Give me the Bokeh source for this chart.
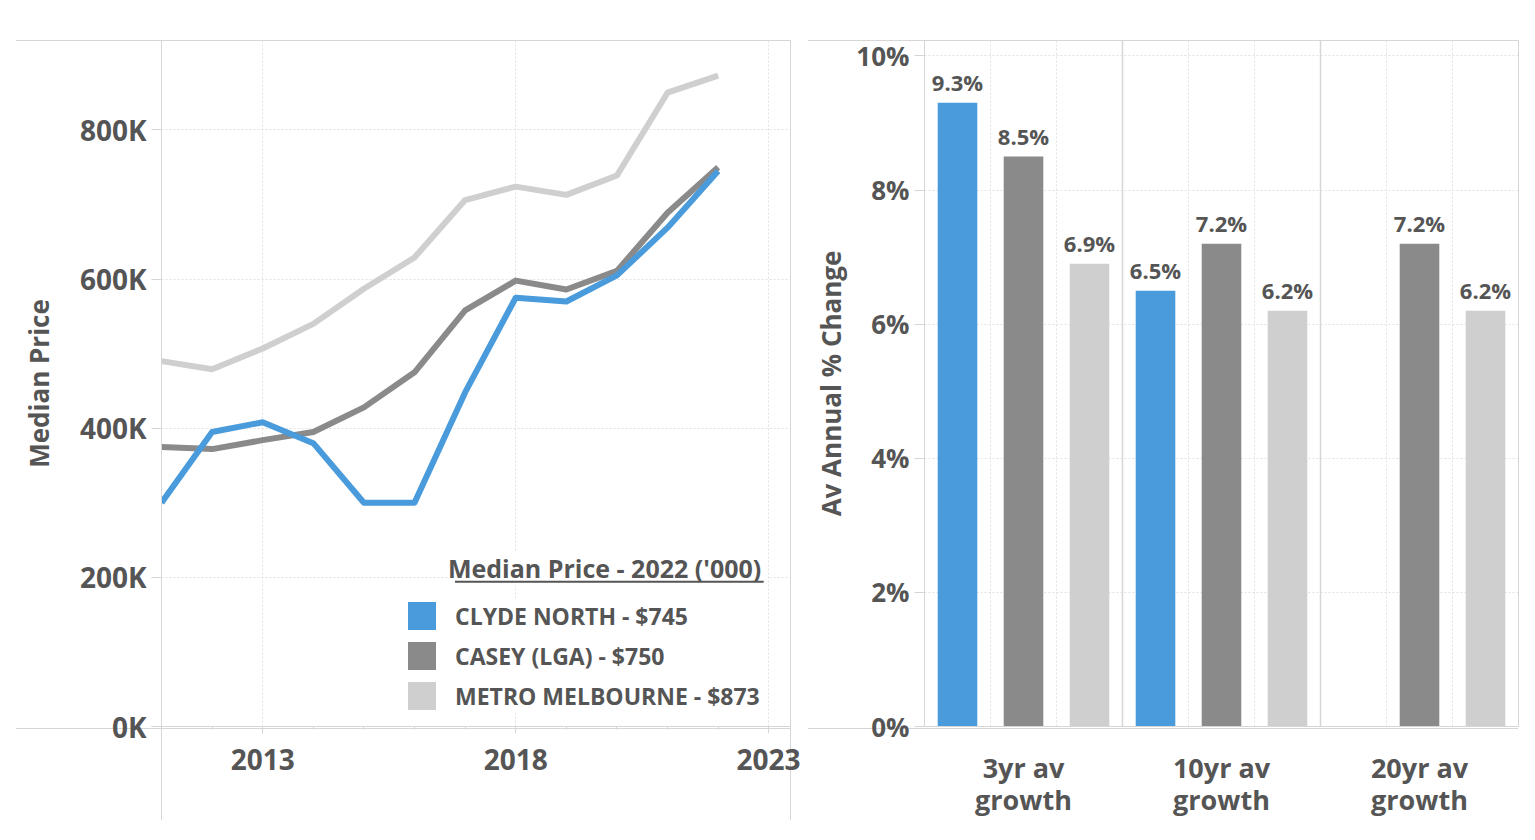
from bokeh.plotting import figure
from bokeh.layouts import row
from bokeh.models import (FixedTicker, Legend, LegendItem, Label, BoxAnnotation,
                          Range1d, Span, InlineStyleSheet)
from bokeh.embed import file_html
from bokeh.resources import INLINE
from bokeh.core.properties import value

FONT = "Open Sans"
TEXT = "#555555"
BORDER = "#d6d6d6"
GRID = "#e2e2e2"

# ---------------- data: median price (thousands of $) ----------------
years = [2011, 2012, 2013, 2014, 2015, 2016, 2017, 2018, 2019, 2020, 2021, 2022]
clyde_north = [300, 395, 408, 380, 300, 300, 448, 575, 570, 605, 669, 745]
casey_lga = [375, 372, 384, 395, 428, 475, 558, 598, 586, 611, 689, 750]
metro_melbourne = [490, 479, 507, 540, 587, 629, 706, 724, 713, 739, 850, 873]
series_labels = ["CLYDE NORTH - $745", "CASEY (LGA) - $750", "METRO MELBOURNE - $873"]
series_colors = ["#4a9bdc", "#8a8a8a", "#cfcfcf"]
legend_title = "Median Price  - 2022 ('000)"
price_ticks = [0, 200, 400, 600, 800]
price_tick_labels = ["0K", "200K", "400K", "600K", "800K"]
year_ticks = [2013, 2018, 2023]
year_minor_ticks = list(range(2011, 2024))

# ---------------- data: average annual growth (%) ----------------
periods = ["3yr av\ngrowth", "10yr av\ngrowth", "20yr av\ngrowth"]
growth_clyde_north = [9.3, 6.5, None]
growth_casey_lga = [8.5, 7.2, 7.2]
growth_metro_melbourne = [6.9, 6.2, 6.2]
growth_ticks = [0, 2, 4, 6, 8, 10]
growth_tick_labels = ["0%", "2%", "4%", "6%", "8%", "10%"]


def style_axis(ax, label_size):
    ax.axis_line_color = BORDER
    ax.major_tick_line_color = BORDER
    ax.minor_tick_line_color = BORDER
    ax.major_tick_in = 0
    ax.minor_tick_in = 0
    ax.major_label_text_font = FONT
    ax.major_label_text_font_style = "bold"
    ax.major_label_text_font_size = label_size
    ax.major_label_text_color = TEXT
    ax.axis_label_text_font = FONT
    ax.axis_label_text_font_style = "bold"
    ax.axis_label_text_font_size = "26px"
    ax.axis_label_text_color = TEXT


def pane_lines(css_boxes):
    # light pane borders that run past the plot frame (drawn behind the transparent border area)
    rules = []
    for sel, box in zip([":host::before", ":host::after"], css_boxes):
        rules.append(sel + "{content:'';position:absolute;pointer-events:none;z-index:-1;"
                     "box-sizing:border-box;" + box + "}")
    return InlineStyleSheet(css=":host{position:relative;}" + "".join(rules))


# ================= left chart =================
p1 = figure(width=800, height=820, x_range=Range1d(2011, 2023.43), y_range=Range1d(0, 920),
            output_backend="svg", toolbar_location=None,
            min_border_left=161, min_border_right=10, min_border_top=40, min_border_bottom=92)
p1.outline_line_color = BORDER
p1.border_fill_alpha = 0
p1.background_fill_color = "white"

for vals, col in zip([metro_melbourne, casey_lga, clyde_north],
                     [series_colors[2], series_colors[1], series_colors[0]]):
    p1.line(years, vals, line_width=6, line_color=col, line_join="round")

style_axis(p1.yaxis[0], "28px")
p1.yaxis.ticker = FixedTicker(ticks=price_ticks)
p1.yaxis.major_label_overrides = dict(zip(price_ticks, price_tick_labels))
p1.yaxis.axis_label = "Median Price"
p1.yaxis.axis_label_standoff = 20
p1.yaxis.major_label_standoff = 5
p1.yaxis.major_tick_out = 10
p1.yaxis.minor_tick_out = 0

style_axis(p1.xaxis[0], "28px")
p1.xaxis.ticker = FixedTicker(ticks=year_ticks, minor_ticks=year_minor_ticks)
p1.xaxis.major_tick_out = 7
p1.xaxis.minor_tick_out = 3
p1.xaxis.major_label_standoff = 15

for g in (p1.xgrid[0], p1.ygrid[0]):
    g.grid_line_color = GRID
    g.grid_line_dash = "2 2"

# zero-area swatch renderers, used only for the legend's square keys
squares = [p1.quad(left=[years[0]], right=[years[0]], top=[0], bottom=[0],
                   fill_color=c, line_color=None) for c in series_colors]
legend = Legend(items=[LegendItem(label=l, renderers=[r]) for l, r in zip(series_labels, squares)],
                location=(243, 13), orientation="vertical",
                glyph_width=35, glyph_height=35, label_height=35, spacing=5,
                label_standoff=16, padding=10, margin=0,
                background_fill_color="white", background_fill_alpha=1.0,
                border_line_color=None,
                label_text_font=FONT, label_text_font_style="bold",
                label_text_font_size="23px", label_text_color=TEXT)
p1.add_layout(legend)
p1.add_layout(Label(x=2022.98, y=212, text=legend_title, text_align="right",
                    text_baseline="middle", text_font=FONT, text_font_style="bold",
                    text_font_size="25px", text_color=TEXT,
                    background_fill_color="white", background_fill_alpha=1.0))
p1.add_layout(BoxAnnotation(left=2016.8, right=2022.9, top=195.5, bottom=192.8,
                            fill_color=TEXT, fill_alpha=1.0, line_color=None))

p1.stylesheets = [pane_lines([
    "left:16px;top:40px;width:774px;height:689px;"
    "border-top:1px solid " + BORDER + ";border-bottom:1px solid " + BORDER + ";",
    "left:161px;top:40px;width:630px;height:780px;"
    "border-left:1px solid " + BORDER + ";border-right:1px solid " + BORDER + ";",
])]

# ================= right chart =================
growth_series = [growth_clyde_north, growth_casey_lga, growth_metro_melbourne]
n = len(growth_series)
p2 = figure(width=727, height=820, x_range=Range1d(0, n * len(periods)), y_range=Range1d(0, 10.23),
            output_backend="svg", toolbar_location=None,
            min_border_left=124, min_border_right=9, min_border_top=40, min_border_bottom=92)
p2.outline_line_color = BORDER
p2.border_fill_alpha = 0
p2.background_fill_color = "white"

for j, (vals, col) in enumerate(zip(growth_series, series_colors)):
    xs = [i * n + j + 0.5 for i, v in enumerate(vals) if v is not None]
    ys = [v for v in vals if v is not None]
    p2.vbar(x=xs, top=ys, bottom=0, width=0.6, fill_color=col, line_color=None)
    p2.text(x=xs, y=ys, text=[f"{v:.1f}%" for v in ys], text_align="center",
            text_baseline="bottom", y_offset=-6, text_font=value(FONT),
            text_font_style="bold", text_font_size="22px", text_color=TEXT)

style_axis(p2.yaxis[0], "26px")
p2.yaxis.ticker = FixedTicker(ticks=growth_ticks)
p2.yaxis.major_label_overrides = dict(zip(growth_ticks, growth_tick_labels))
p2.yaxis.axis_label = "Av Annual % Change"
p2.yaxis.axis_label_standoff = 4
p2.yaxis.major_label_standoff = 5
p2.yaxis.major_tick_out = 10
p2.yaxis.minor_tick_out = 0

period_centers = [i * n + n / 2 for i in range(len(periods))]
style_axis(p2.xaxis[0], "27px")
p2.xaxis.ticker = FixedTicker(ticks=period_centers)
p2.xaxis.major_label_overrides = dict(zip(period_centers, periods))
p2.xaxis.major_label_text_line_height = 0.87
p2.xaxis.major_tick_out = 0
p2.xaxis.minor_tick_out = 0
p2.xaxis.major_label_standoff = 22

p2.xgrid.ticker = FixedTicker(ticks=[k for k in range(1, n * len(periods)) if k % n])
for g in (p2.xgrid[0], p2.ygrid[0]):
    g.grid_line_color = GRID
    g.grid_line_dash = "2 2"
for k in range(1, len(periods)):
    p2.add_layout(Span(location=k * n, dimension="height", line_color=BORDER, line_width=1.5))

p2.stylesheets = [pane_lines([
    "left:8px;top:40px;width:710px;height:689px;"
    "border-top:1px solid " + BORDER + ";border-bottom:1px solid " + BORDER + ";",
    "display:none;",
])]

layout = row(p1, p2)
open("out.html", "w").write(file_html(layout, INLINE))
